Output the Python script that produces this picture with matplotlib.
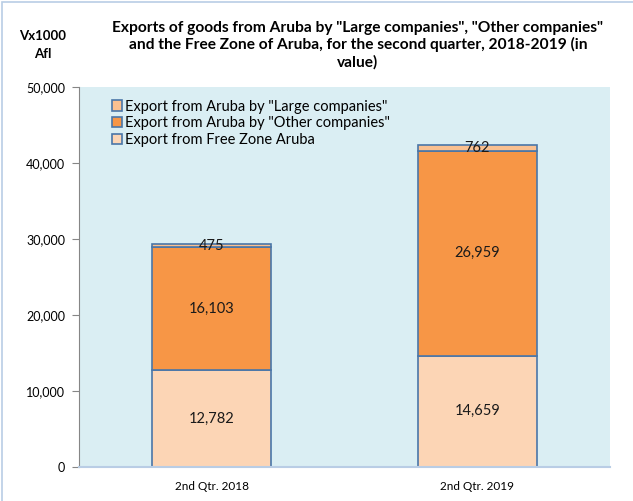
import numpy as np
import matplotlib
matplotlib.use("Agg")
import matplotlib.pyplot as plt
from matplotlib.patches import Rectangle

plt.rcParams['font.family'] = ['Lato', 'DejaVu Sans']

quarters = ["2nd Qtr. 2018", "2nd Qtr. 2019"]
free_zone = [12782, 14659]
other_companies = [16103, 26959]
large_companies = [475, 762]

series_names = ['Export from Free Zone Aruba',
                'Export from Aruba by "Other companies"',
                'Export from Aruba by "Large companies"']
series_colors = ["#FCD5B5", "#F79646", "#FAC090"]
edge_col = "#4A76A8"

fig = plt.figure(figsize=(6.33, 5.01), dpi=100)
ax = fig.add_axes([79 / 633, 1 - 467 / 501, 531 / 633, 380 / 501])
ax.set_facecolor("#DAEEF3")

# light frame around the chart (only top and left visible in the original)
fig.patches.append(Rectangle((2 / 633, -0.1), 1.2, 1 - 2 / 501 + 0.1,
                             transform=fig.transFigure, fill=False,
                             edgecolor="#B9CDE5", linewidth=1.2))

x = np.arange(len(quarters))
width = 0.45

bottom = np.zeros(len(quarters))
bars = []
for vals, name, col in zip([free_zone, other_companies, large_companies],
                           series_names, series_colors):
    b = ax.bar(x, vals, width, bottom=bottom, color=col, edgecolor=edge_col,
               linewidth=1.2, label=name)
    for xi, v, bt in zip(x, vals, bottom):
        ax.text(xi, bt + v / 2, f"{v:,}", ha="center", va="center",
                fontsize=10.5, color="#1a1a1a")
    bottom = bottom + np.array(vals)
    bars.append(b)

ax.set_xlim(-0.5, 1.5)
ax.set_ylim(0, 50000)
ax.set_yticks(np.arange(0, 50001, 10000))
ax.yaxis.set_major_formatter(matplotlib.ticker.FuncFormatter(lambda v, p: f"{int(v):,}"))
ax.set_xticks(x)
ax.set_xticklabels(quarters, fontsize=8.5)
ax.tick_params(axis="y", labelsize=9, length=5, color="#868686", pad=5)
ax.tick_params(axis="x", length=0, pad=10)

for s in ["top", "right"]:
    ax.spines[s].set_visible(False)
ax.spines["left"].set_color("#868686")
ax.spines["bottom"].set_color("#B9CDE5")
ax.spines["bottom"].set_linewidth(1.5)

handles = [bars[2], bars[1], bars[0]]
ax.legend(handles, [series_names[2], series_names[1], series_names[0]],
          loc="upper left", bbox_to_anchor=(0.045, 0.99), frameon=False,
          fontsize=10.5, handlelength=0.7, handleheight=0.7,
          handletextpad=0.2, labelspacing=0.2, borderaxespad=0.2)

fig.text(358 / 633, 1 - 45 / 501,
         'Exports of goods from Aruba by "Large companies", "Other companies"\n'
         'and the Free Zone of Aruba, for the second quarter, 2018-2019 (in\nvalue)',
         ha="center", va="center", fontsize=11.2, fontweight="bold",
         linespacing=1.2)
fig.text(43 / 633, 1 - 45 / 501, "Vx1000\nAfl", ha="center", va="center",
         fontsize=9.5, fontweight="bold", linespacing=1.7)

fig.savefig("out.png", dpi=100)
